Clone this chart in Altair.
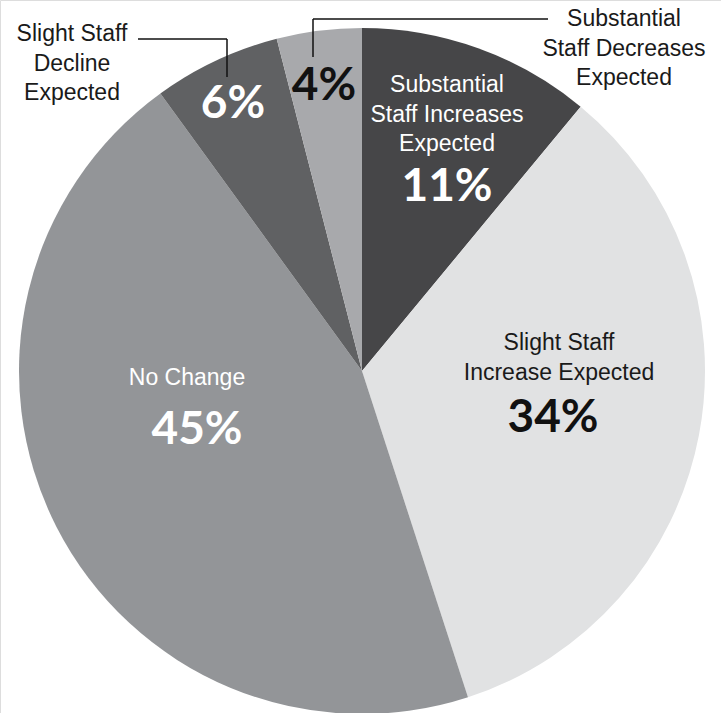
import altair as alt
import pandas as pd

# ---- data ----
categories = [
    "Substantial Staff Increases Expected",
    "Slight Staff Increase Expected",
    "No Change",
    "Slight Staff Decline Expected",
    "Substantial Staff Decreases Expected",
]
values = [11, 34, 45, 6, 4]
colors = ["#464648", "#e1e2e3", "#939598", "#606163", "#a8a9ac"]

# label line breaks per category (text only)
label_lines = [
    ["Substantial", "Staff Increases", "Expected"],
    ["Slight Staff", "Increase Expected"],
    ["No Change"],
    ["Slight Staff", "Decline", "Expected"],
    ["Substantial", "Staff Decreases", "Expected"],
]

# ---- layout (positions / styles) ----
W, H = 721, 713
CX, CY, R = 362, 371, 343
LINE_H = 29.5
label_pos = [(447, 85), (559, 343), (187, 378), (72, 34), (624, 19)]
pct_pos = [(447, 187), (553, 418), (197, 430), (233, 104), (324, 86)]
text_colors = ["#ffffff", "#1a1a1a", "#ffffff", "#1a1a1a", "#1a1a1a"]
pct_colors = ["#ffffff", "#111111", "#ffffff", "#ffffff", "#111111"]

df = pd.DataFrame({"category": categories, "value": values, "order": list(range(len(values)))})

pie = alt.Chart(df).mark_arc(strokeWidth=0).encode(
    theta=alt.Theta("value:Q", stack=True),
    order=alt.Order("order:Q"),
    color=alt.Color("category:N", scale=alt.Scale(domain=categories, range=colors), legend=None),
    x=alt.value(CX),
    y=alt.value(CY),
    radius=alt.value(R),
)

rows = []
for i, lines in enumerate(label_lines):
    x0, y0 = label_pos[i]
    for j, t in enumerate(lines):
        rows.append({"t": t, "px": x0, "py": y0 + j * LINE_H, "c": text_colors[i]})
lab_df = pd.DataFrame(rows)

pct_df = pd.DataFrame({
    "t": [f"{v}%" for v in values],
    "px": [p[0] for p in pct_pos],
    "py": [p[1] for p in pct_pos],
    "c": pct_colors,
})

labels = alt.Chart(lab_df).mark_text(
    font="Liberation Sans", fontSize=23, baseline="middle", align="center"
).encode(
    x=alt.X("px:Q", scale=None, axis=None),
    y=alt.Y("py:Q", scale=None, axis=None),
    text="t:N",
    color=alt.Color("c:N", scale=None, legend=None),
)

pcts = alt.Chart(pct_df).mark_text(
    font="Lato", fontSize=46, fontWeight="bold", baseline="middle", align="center"
).encode(
    x=alt.X("px:Q", scale=None, axis=None),
    y=alt.Y("py:Q", scale=None, axis=None),
    text="t:N",
    color=alt.Color("c:N", scale=None, legend=None),
)

# leader lines (annotation)
lead_df = pd.DataFrame({
    "x1": [138, 227, 313, 313],
    "x2": [227, 227, 548, 313],
    "y1": [39, 39, 19, 19],
    "y2": [39, 77, 19, 57],
})
leaders = alt.Chart(lead_df).mark_rule(color="#111111", strokeWidth=1.5).encode(
    x=alt.X("x1:Q", scale=None, axis=None),
    x2="x2:Q",
    y=alt.Y("y1:Q", scale=None, axis=None),
    y2="y2:Q",
)

chart = alt.layer(pie, leaders, labels, pcts).properties(
    width=W, height=H, padding=0, autosize=alt.AutoSizeParams(type="none")
).configure_view(stroke=None).configure(background="#ffffff")

chart.save("out.html", embed_options={"renderer": "svg", "actions": False})
